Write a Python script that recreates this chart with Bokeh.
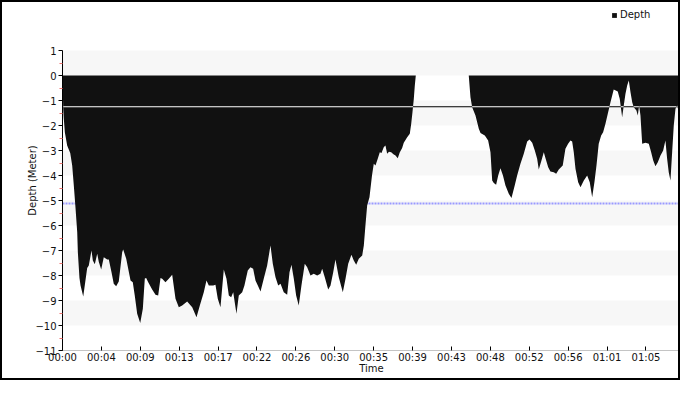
from bokeh.plotting import figure
from bokeh.models import (Range1d, FixedTicker, CustomJSTickFormatter, Span,
                          Legend, LegendItem, ColumnDataSource)
from bokeh.embed import file_html
from bokeh.resources import INLINE

# ---- data (minutes, metres) ----
time_min = [
    0, 0.08, 0.14, 0.26, 0.52, 0.86, 1.08, 1.26, 1.45, 1.64,
    1.71, 1.89, 2.01, 2.31, 2.75, 2.93, 3.23, 3.38, 3.60, 3.87,
    4.04, 4.31, 4.60, 4.98, 5.16, 5.46, 5.71, 5.98, 6.27, 6.65,
    6.76, 7.10, 7.58, 7.83, 8.05, 8.32, 8.66, 8.95, 9.17, 9.32,
    9.55, 9.99, 10.36, 10.66, 10.92, 11.11, 11.47, 11.84, 12.22, 12.59,
    12.96, 13.33, 13.89, 14.45, 14.93, 15.30, 15.74, 16.04, 16.30, 16.79,
    17.04, 17.30, 17.60, 17.97, 18.27, 18.53, 18.79, 19.02, 19.38, 19.64,
    20.02, 20.27, 20.64, 20.94, 21.24, 21.50, 21.76, 22.06, 22.42, 22.80,
    23.17, 23.43, 23.73, 24.03, 24.29, 24.65, 25.03, 25.29, 25.51, 25.77,
    26.03, 26.32, 26.62, 26.99, 27.26, 27.63, 27.99, 28.37, 28.74, 28.93,
    29.22, 29.60, 29.86, 30.16, 30.41, 30.78, 31.23, 31.53, 31.83, 32.19,
    32.45, 32.72, 33.01, 33.39, 33.57, 33.75, 33.94, 34.20, 34.48, 34.68,
    34.87, 35.12, 35.35, 35.54, 35.79, 35.98, 36.17, 36.37, 36.62, 36.87,
    37.10, 37.35, 37.57, 37.84, 38.02, 38.40, 38.69, 38.85, 38.99, 39.14,
    39.25, 39.36, 45.26, 45.45, 45.64, 46.01, 46.38, 46.57, 47.05, 47.42,
    47.68, 47.87, 48.05, 48.31, 48.54, 48.79, 49.07, 49.35, 49.72, 50.02,
    50.38, 50.65, 51.02, 51.39, 51.77, 52.03, 52.33, 52.62, 52.88, 53.06,
    53.36, 53.62, 53.81, 54.11, 54.36, 54.73, 55.00, 55.29, 55.73, 56.03,
    56.33, 56.59, 56.78, 56.96, 57.15, 57.45, 57.71, 58.08, 58.45, 58.74,
    59.01, 59.26, 59.49, 59.74, 60.01, 60.23, 60.49, 60.75, 61.05, 61.41,
    61.64, 61.86, 62.08, 62.35, 62.53, 62.72, 62.91, 63.09, 63.28, 63.47,
    63.64, 63.94, 64.09, 64.24, 64.39, 64.58, 64.95, 65.32, 65.58, 65.81,
    66.06, 66.32, 66.62, 66.92, 67.17, 67.36, 67.54, 67.73, 67.92, 68.10,
    68.29, 68.48, 68.67, 68.83,
]
depth_m = [
    0, -1.3, -1.7, -2.27, -2.8, -3.1, -3.6, -4.4, -5.3, -6.27,
    -7.07, -8.1, -8.4, -8.84, -7.7, -7.6, -7.0, -7.4, -7.55, -7.13,
    -7.45, -7.76, -7.27, -7.36, -7.36, -7.87, -8.33, -8.43, -8.24, -7.07,
    -6.96, -7.33, -8.2, -8.27, -8.8, -9.53, -9.9, -9.33, -8.12, -8.1,
    -8.27, -8.56, -8.77, -8.8, -8.1, -8.13, -8.27, -8.13, -7.97, -8.93,
    -9.27, -9.2, -9.04, -9.27, -9.67, -9.2, -8.67, -8.2, -8.4, -8.4,
    -8.37, -8.93, -9.27, -7.76, -8.13, -8.8, -8.87, -8.67, -9.53, -8.8,
    -8.67, -8.4, -7.8, -7.67, -7.73, -8.2, -8.4, -8.64, -8.13, -7.6,
    -6.8, -7.53, -8.07, -8.4, -8.33, -8.67, -8.77, -7.87, -7.57, -8.13,
    -8.8, -9.2, -8.4, -7.53, -7.67, -8.0, -7.93, -8.0, -7.93, -7.73,
    -8.07, -8.56, -8.4, -7.87, -7.36, -8.07, -8.67, -8.13, -7.53, -7.17,
    -7.4, -7.57, -7.33, -7.2, -6.8, -6.0, -5.2, -4.87, -4.0, -3.53,
    -3.6, -3.33, -3.07, -3.1, -2.87, -2.8, -3.13, -3.05, -3.07, -3.15,
    -3.2, -3.31, -3.08, -2.9, -2.69, -2.47, -2.33, -1.93, -1.47, -0.93,
    -0.4, 0, 0, -0.87, -1.27, -1.6, -2.13, -2.3, -2.4, -2.6,
    -3.07, -4.2, -4.3, -4.37, -4.0, -3.71, -4.0, -4.4, -4.73, -4.9,
    -4.4, -4.0, -3.53, -3.13, -2.64, -2.56, -2.69, -3.0, -3.33, -3.76,
    -3.4, -3.07, -3.31, -3.67, -3.84, -3.87, -3.93, -3.76, -3.6, -2.93,
    -2.73, -2.6, -2.64, -3.07, -3.73, -4.27, -4.47, -4.2, -4.0, -4.27,
    -4.87, -4.27, -3.6, -2.73, -2.4, -2.27, -1.93, -1.53, -1.07, -0.56,
    -0.6, -0.64, -0.93, -1.67, -1.2, -0.73, -0.4, -0.2, -0.67, -1.07,
    -1.27, -1.4, -1.6, -1.2, -1.6, -2.73, -2.69, -2.73, -3.07, -3.4,
    -3.63, -3.47, -3.2, -3.0, -2.6, -3.33, -3.87, -4.2, -3.07, -2.0,
    -1.33, -1.2, -1.47, -1.8,
]
assert len(time_min) == len(depth_m)

x_tick_labels = ["00:00", "00:04", "00:09", "00:13", "00:17", "00:22", "00:26", "00:30",
                 "00:35", "00:39", "00:43", "00:48", "00:52", "00:56", "01:01", "01:05"]
x_tick_step_min = 260 / 60
x_end_min = 68.85
y_axis_min, y_axis_max = -11, 1
y_view_top = 2.6          # headroom above the axis, where the legend sits
y_ticks = list(range(-11, 2))
y_minor_ticks = [v + 0.5 for v in range(-11, 1)]
reference_depth = -1.25
average_depth = -5.12

FONT = "DejaVu Sans"

# ---- figure ----
p = figure(width=680, height=380, output_backend="svg", toolbar_location=None,
           x_range=Range1d(0, x_end_min), y_range=Range1d(y_axis_min, y_view_top),
           min_border_left=60, min_border_right=2, min_border_top=8,
           min_border_bottom=32)
p.styles = {"border": "2px solid black"}
p.outline_line_color = None
p.background_fill_color = "white"
p.border_fill_color = "white"

# y axis
yt = FixedTicker(ticks=y_ticks, minor_ticks=y_minor_ticks)
p.yaxis.ticker = yt
p.ygrid.ticker = yt
p.yaxis.bounds = (y_axis_min, y_axis_max)
p.ygrid.bounds = (y_axis_min, y_axis_max)
p.yaxis.axis_label = "Depth (Meter)"
p.yaxis.axis_line_color = "black"
p.yaxis.major_tick_line_color = "black"
p.yaxis.major_tick_in = 0
p.yaxis.major_tick_out = 4
p.yaxis.minor_tick_line_color = "#f07070"
p.yaxis.minor_tick_in = 0
p.yaxis.minor_tick_out = 3
p.yaxis.major_label_standoff = 2
p.yaxis.axis_label_standoff = -6

# x axis
xt = FixedTicker(ticks=[i * x_tick_step_min for i in range(len(x_tick_labels))], minor_ticks=[])
p.xaxis.ticker = xt
p.xaxis.formatter = CustomJSTickFormatter(
    args=dict(labels=x_tick_labels, step=x_tick_step_min),
    code="const i = Math.round(tick / step); return labels[i] ?? '';")
p.xaxis.axis_label = "Time"
p.xaxis.axis_line_color = "#888888"
p.xaxis.axis_line_dash = "1 1"
p.xaxis.major_tick_line_color = "black"
p.xaxis.major_tick_in = 4
p.xaxis.major_tick_out = 0
p.xaxis.minor_tick_line_color = None
p.xaxis.major_label_standoff = 1
p.xaxis.axis_label_standoff = -3

for ax in (p.xaxis, p.yaxis):
    ax.major_label_text_font = FONT
    ax.major_label_text_font_size = "10px"
    ax.major_label_text_color = "#111111"
    ax.axis_label_text_font = FONT
    ax.axis_label_text_font_size = "10px"
    ax.axis_label_text_font_style = "normal"
    ax.axis_label_text_color = "#111111"

p.xgrid.visible = False
p.ygrid.grid_line_color = None
p.ygrid.band_fill_color = "#f7f7f7"
p.ygrid.band_fill_alpha = 1.0

# average depth line (under the area)
p.add_layout(Span(location=average_depth, dimension="width", line_color="#9999ff",
                  line_dash="2 1", line_width=2, level="underlay"))
# reference line, black where it is over the background
p.add_layout(Span(location=reference_depth, dimension="width", line_color="black",
                  line_width=1, level="underlay"))

src = ColumnDataSource(dict(t=time_min, d=depth_m))
area = p.varea(x="t", y1=0, y2="d", source=src, fill_color="#111111", fill_alpha=1.0)

# white parts of the reference line, where it crosses the dark area
seg_x0, seg_x1 = [], []
start = time_min[0] if depth_m[0] < reference_depth else None
for i in range(1, len(time_min)):
    a, b = depth_m[i - 1], depth_m[i]
    if (a < reference_depth) != (b < reference_depth):
        f = (reference_depth - a) / (b - a)
        xc = time_min[i - 1] + f * (time_min[i] - time_min[i - 1])
        if b < reference_depth:
            start = xc
        else:
            seg_x0.append(start)
            seg_x1.append(xc)
            start = None
if start is not None:
    seg_x0.append(start)
    seg_x1.append(time_min[-1])
p.segment(x0=seg_x0, x1=seg_x1, y0=[reference_depth] * len(seg_x0),
          y1=[reference_depth] * len(seg_x0), line_color="white", line_width=1)

legend = Legend(items=[LegendItem(label="Depth", renderers=[area])],
                location=(549, 330))
legend.border_line_color = None
legend.background_fill_alpha = 0
legend.padding = 0
legend.margin = 0
legend.glyph_width = 6
legend.glyph_height = 6
legend.label_height = 10
legend.label_standoff = 3
legend.label_text_font = FONT
legend.label_text_font_size = "10px"
legend.label_text_color = "#111111"
p.add_layout(legend)

open("out.html", "w").write(file_html(p, INLINE))
